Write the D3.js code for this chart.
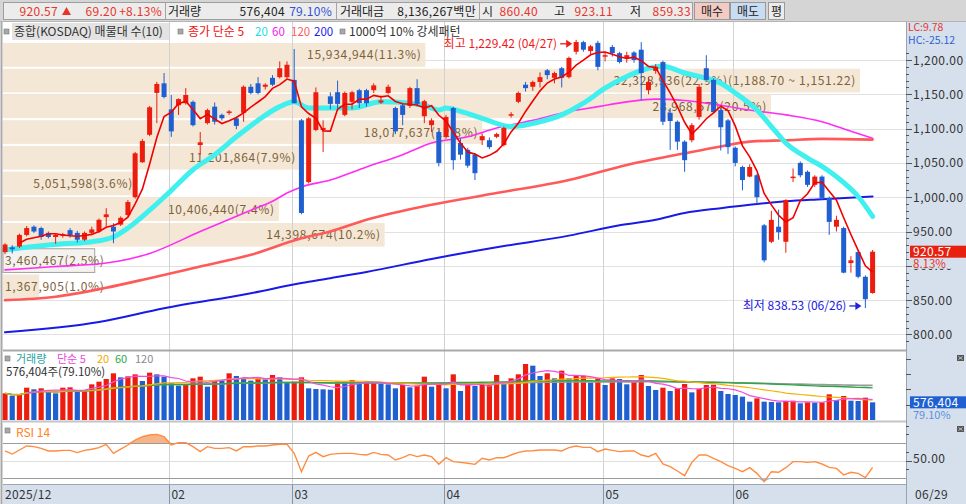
<!DOCTYPE html>
<html>
<head>
<meta charset="utf-8">
<script src="https://cdn.jsdelivr.net/npm/d3@7"></script>
<style>
  body { margin: 0; background: #fff; overflow: hidden; }
  svg text { font-family: "Noto Sans CJK KR", "Noto Sans", sans-serif; }
</style>
</head>
<body>
<svg id="chart" width="966" height="504"></svg>
<script>
// ---- daily candles, 2025/12/29 .. 2026/06/29 (index 0..120) ----
var openPrices = [920,927,928,945,957,955,948,942,944,952, 948,938,948,950,971,957,960,974,1000,1051,
  1091,1152,1166,1128,1134,1137,1139,1076,1108,1132, 1120,1123,1115,1123,1161,1166,1161,1174,1175,1175,
  1171,1112,1022,1098,1098,1147,1153,1120,1139,1156, 1156,1156,1138,1152,1130,1134,1133,1159,1118,1105,
  1095,1088,1130,1079,1069,1062,1083,1083,1088,1076, 1119,1139,1164,1161,1168,1185,1174,1188,1175,1212,
  1226,1213,1225,1205,1219,1210,1203,1211,1215,1156, 1184,1197,1123,1110,1081,1083,1117,1188,1171,1127,
  1112,1072,1044,1030,1032,959,935,957,935,1028, 1050,1037,1018,1030,999,957,955,904,920,884,
  860.40];
var highPrices = [933,930,947,958,959,957,950,947,948,955, 951,950,957,969,984,962,972,996,1066,1085,
  1133,1168,1181,1149,1144,1159,1141,1095,1129,1138, 1122,1127,1117,1163,1165,1175,1166,1178,1198,1198,
  1216,1114,1117,1160,1112,1153,1170,1154,1155,1158, 1158,1166,1148,1164,1132,1136,1161,1172,1142,1115,
  1097,1120,1132,1086,1072,1064,1093,1087,1094,1103, 1124,1154,1168,1170,1182,1187,1183,1190,1205,1229.42,
  1228,1222,1228,1212,1222,1212,1212,1213,1226,1175, 1194,1199,1130,1112,1083,1108,1165,1207,1173,1130,
  1114,1074,1046,1048,1034,961,980,982,997,1042, 1052,1039,1032,1032,1001,973,957,914,922,886,
  923.11];
var lowPrices = [917,918,926,943,948,938,940,932,941,941, 934,936,946,948,957,933,958,972,998,1050,
  1089,1108,1144,1088,1120,1135,1103,1062,1106,1106, 1112,1120,1099,1110,1150,1150,1157,1162,1173,1173,
  1137,975,1020,1096,1066,1128,1130,1118,1128,1130, 1132,1152,1136,1150,1092,1105,1130,1132,1108,1095,
  1045,1085,1040,1055,1043,1025,1076,1070,1086,1074, 1116,1137,1154,1155,1160,1172,1166,1160,1173,1208,
  1212,1208,1185,1198,1205,1195,1196,1196,1142,1150, 1180,1105,1069,1069,1037,1080,1113,1170,1122,1068,
  1063,1045,1010,1029,990,905,933,938,919,1022, 1029,1015,1015,996,945,950,889,890,882,838.53,
  859.33];
var closePrices = [931,924,945,955,950,942,942,945,946,944, 938,948,953,967,975,950,970,993,1064,1082,
  1131,1165,1146,1096,1143,1149,1105,1080,1127,1110, 1115,1125,1104,1161,1152,1152,1164,1164,1188,1193,
  1137,977,1115,1153,1101,1136,1136,1152,1153,1137, 1137,1163,1141,1161,1096,1120,1159,1136,1140,1112,
  1050,1117,1054,1062,1046,1035,1089,1073,1092,1101, 1121,1152,1159,1168,1175,1178,1181,1174,1203,1226.18,
  1215,1220,1190,1207,1210,1197,1207,1200,1181,1168, 1190,1110,1111,1081,1054,1105,1161,1171,1124,1102,
  1073,1050,1025,1044,1000,908,967,949,996,1030, 1032,1018,1030,999,964,967,890,908,884,851.37,
  920.57];
// volume, thousand shares
var volumes = [870,793,815,1054,1000,1033,924,870,1054,1065, 924,946,1163,1250,1337,1522,1391,1424,1489,1272,
  1544,1489,1413,1196,1120,1141,1359,1413,1087,1304, 1283,1522,1435,1359,1283,1359,1326,1467,1391,1217,
  1250,1391,1033,1011,1000,989,1250,1217,1304,1174, 1228,1239,1174,1163,1033,1141,1065,1120,1413,1087,
  1174,1033,1489,946,1141,1109,1141,1163,1467,1217, 1359,1489,1826,1772,1435,1522,1359,1609,1359,1435,
  1446,1217,1359,1141,1359,1337,1163,1250,1467,1109, 978,1054,946,1033,1174,902,1011,1141,1152,946,
  848,815,761,598,707,598,587,576,620,630, 544,576,565,576,837,652,783,630,620,728.7,
  576.404];
// RSI 14
var rsiValues = [60.9,57.4,62.0,66.6,65.8,63.9,60.9,60.9,61.6,61.6, 59.0,61.6,62.8,64.7,68.5,58.2,63.1,67.7,73.4,77.2,
  79.1,79.9,77.2,67.7,70.4,70.4,65.8,60.1,65.8,63.9, 63.9,64.7,60.9,65.8,65.8,66.6,66.6,67.7,68.5,68.5,
  58.2,37.2,55.1,59.3,54.4,57.0,57.8,58.2,58.2,57.0, 56.3,59.3,57.0,56.3,50.6,53.2,57.0,54.4,56.3,54.4,
  45.6,53.2,48.7,47.9,46.8,45.6,52.5,50.6,53.2,53.2, 56.3,59.3,60.9,61.2,62.0,62.0,62.0,60.9,64.7,66.6,
  65.0,65.0,60.1,63.1,61.6,60.1,60.9,60.9,56.3,54.4, 58.2,46.0,43.0,38.0,32.7,47.9,56.3,56.3,52.5,48.7,
  44.1,41.0,37.2,41.8,35.3,25.8,37.2,36.5,41.8,48.7, 48.7,47.9,48.7,46.0,42.2,41.0,33.4,36.5,35.3,30.4,
  42.2];
// longer moving averages: [index, value]
var ma20Points = [[0,923],[4,928],[8,932],[12,935],[15,942],[17,955],[20,981],[23,1010],[26,1040],[29,1062],
  [32,1088],[35,1112],[38,1132],[40,1139],[42,1130],[44,1130],[48,1130],[52,1139],[56,1137],[58,1134],
  [60,1127],[61,1130],[63,1125],[66,1115],[70,1103],[74,1110],[77,1120],[80,1137],[83,1159],[86,1176],
  [89,1188],[91,1191],[94,1181],[96,1176],[99,1166],[101,1152],[104,1127],[106,1103],[108,1079],[111,1057],
  [113,1045],[115,1030],[118,1001],[120,972]];
var ma60Points = [[0,894],[7,899],[14,904],[20,918],[27,950],[34,981],[37,994],[39,1006],[41,1015],[45,1025],
  [50,1044],[55,1062],[59,1079],[64,1088],[68,1101],[73,1112],[78,1125],[82,1132],[86,1139],[90,1143],
  [94,1141],[99,1134],[103,1127],[108,1120],[113,1110],[117,1096],[120,1086]];
var ma120Points = [[0,850],[7,855],[14,868],[20,882],[27,899],[34,916],[41,940],[45,950],[50,967],[59,989],
  [68,1006],[78,1025],[86,1047],[94,1064],[99,1074],[103,1081],[108,1083],[113,1085],[120,1084]];
var ma200Points = [[0,803],[13,818],[22,838],[34,860],[41,875],[45,882],[50,891],[59,910],[68,927],[78,944],
  [85,959],[90,967],[94,977],[99,984],[103,989],[108,994],[113,997],[120,1001]];
// volume-at-price bins (bottom to top), from the 매물대 labels
var profileVolumes = [1367905,3460467,14398674,10406440,5051598,11201864,18077637,28968570,32328936,15934944];
// axes
var priceTicks = [800,850,900,950,1000,1050,1100,1150,1200];
var monthTickIndex = [23,40,61,83,101];
var monthTickLabels = ["02","03","04","05","06"];
var firstDateLabel = "2025/12", lastDateLabel = "06/29";

var UP = "#ec1c0e", DOWN = "#1f5fcf";
var svg = d3.select("#chart");
var fmt2 = d3.format(",.2f"), fmtInt = d3.format(",d");

var x = d3.scaleLinear().domain([0, 120]).range([5, 872.6]);
var yP = d3.scaleLinear().domain([800, 1200]).range([334.4, 60]);
var yV = d3.scaleLinear().domain([0, 2250]).range([420, 351]);
var yR = d3.scaleLinear().domain([30, 70]).range([478, 443]);
var idx = d3.range(closePrices.length);

function txt(g, px, py, s, color, opt) {
  opt = opt || {};
  return g.append("text").attr("x", px).attr("y", py).text(s)
    .attr("fill", color)
    .attr("font-size", opt.size || 12)
    .attr("text-anchor", opt.anchor || "start")
    .attr("letter-spacing", opt.ls || 0)
    .attr("font-weight", opt.weight || "normal");
}
function bullet(g, px, py) {
  g.append("rect").attr("x", px).attr("y", py).attr("width", 5).attr("height", 5)
    .attr("fill", "#a8a8a8").attr("stroke", "#777").attr("stroke-width", 0.6);
}

// ---- backgrounds ----
svg.append("rect").attr("width", 966).attr("height", 504).attr("fill", "#fff");
svg.append("rect").attr("x", 906).attr("y", 22).attr("width", 60).attr("height", 482).attr("fill", "#d6e0ec");
svg.append("rect").attr("x", 3).attr("y", 485).attr("width", 903).attr("height", 19).attr("fill", "#d6e0ec");

var price = svg.append("g");
// horizontal grid
price.selectAll(".hg").data(priceTicks).enter().append("line")
  .attr("x1", 3).attr("x2", 906).attr("y1", function(d){ return Math.round(yP(d)) + 0.5; })
  .attr("y2", function(d){ return Math.round(yP(d)) + 0.5; })
  .attr("stroke", "#e1e1e1");

// volume profile bands
var lo = d3.min(closePrices), hi = d3.max(closePrices);
var step = (hi - lo) / profileVolumes.length;
var totalProfile = d3.sum(profileVolumes), maxProfile = d3.max(profileVolumes);
var bandW = d3.scaleLinear().domain([0, maxProfile]).range([0, 857]);
var curBin = Math.min(profileVolumes.length - 1, Math.floor((closePrices[closePrices.length-1] - lo) / step));
var bandLabels = [];
profileVolumes.forEach(function(v, k) {
  var pLo = lo + k * step, pHi = lo + (k + 1) * step;
  var yTop = yP(pHi) + 1, yBot = yP(pLo) - 1;
  price.append("rect").attr("x", 3).attr("y", yTop).attr("width", bandW(v)).attr("height", yBot - yTop)
    .attr("fill", k === curBin ? "#f4f2ef" : "#f5e7d5")
    .attr("stroke", k === curBin ? "#a3a3a3" : "none");
  var label = fmtInt(v) + "(" + (v / totalProfile * 100).toFixed(1) + "%)";
  if (v === maxProfile) label += "(" + fmt2(pHi) + " ~ " + fmt2(pLo) + ")";
  bandLabels.push({ label: label, end: 3 + bandW(v), y: (yTop + yBot) / 2 + 4.5 });
});

// vertical month grid
var gridX = function(i){ return Math.round(x(i) - 2) + 0.5; };
svg.selectAll(".vg").data(monthTickIndex).enter().append("line")
  .attr("x1", gridX).attr("x2", gridX).attr("y1", 22).attr("y2", 485)
  .attr("stroke", "#d2d2d2");

// band labels
var labelG = svg.append("g");
bandLabels.forEach(function(b) {
  var t = txt(labelG, b.end - 4, b.y, b.label, "#7b623c", { size: 12, anchor: "end", ls: 0.7 });
  var w = t.node().getComputedTextLength();
  if (w + 8 > b.end - 3) t.attr("x", 5).attr("text-anchor", "start");
});

// moving averages
var lineIdx = d3.line().x(function(d){ return x(d[0]); }).y(function(d){ return yP(d[1]); }).curve(d3.curveMonotoneX);
function maLine(pts, color, w) {
  svg.append("path").attr("d", lineIdx(pts)).attr("fill", "none").attr("stroke", color)
    .attr("stroke-width", w).attr("stroke-linejoin", "round").attr("stroke-linecap", "round");
}
maLine(ma200Points, "#1a1ae6", 2);
maLine(ma120Points, "#ff5a5a", 2.6);
maLine(ma60Points, "#ff2cf2", 1.6);
maLine(ma20Points, "#3ff0ee", 5);

// candles
var cg = svg.append("g");
idx.forEach(function(i) {
  var o = openPrices[i], c = closePrices[i];
  var col = c >= o ? UP : DOWN;
  cg.append("line").attr("x1", x(i)).attr("x2", x(i))
    .attr("y1", yP(highPrices[i])).attr("y2", yP(lowPrices[i])).attr("stroke", col).attr("stroke-width", 1);
  var top = yP(Math.max(o, c)), bot = yP(Math.min(o, c));
  cg.append("rect").attr("x", x(i) - 2.5).attr("y", top).attr("width", 5)
    .attr("height", Math.max(1.5, bot - top)).attr("fill", col);
});

// MA5 from closes
var ma5 = idx.map(function(i) {
  var w = closePrices.slice(Math.max(0, i - 4), i + 1);
  return [i, d3.mean(w)];
}).filter(function(d){ return d[0] >= 2; });
svg.append("path").attr("d", d3.line().x(function(d){ return x(d[0]); }).y(function(d){ return yP(d[1]); })(ma5))
  .attr("fill", "none").attr("stroke", "#f20000").attr("stroke-width", 1.6);

// high / low annotations
var iHi = highPrices.indexOf(d3.max(highPrices)), iLo = lowPrices.indexOf(d3.min(lowPrices));
function arrow(x1, x2, yy, col) {
  svg.append("line").attr("x1", x1).attr("x2", x2 - 5).attr("y1", yy).attr("y2", yy).attr("stroke", col).attr("stroke-width", 1.3);
  svg.append("path").attr("d", "M" + (x2 - 6) + "," + (yy - 4) + "L" + x2 + "," + yy + "L" + (x2 - 6) + "," + (yy + 4) + "Z").attr("fill", col);
}
var hiY = yP(highPrices[iHi]) + 4;
arrow(x(iHi) - 16, x(iHi) - 4, hiY, "#f01a1a");
txt(svg, x(iHi) - 19, hiY + 4.5, "최고 " + fmt2(highPrices[iHi]) + " (04/27)", "#f01a1a", { size: 12, anchor: "end" });
var loY = yP(lowPrices[iLo]) - 2;
arrow(x(iLo) - 16, x(iLo) - 4, loY, "#2020e0");
txt(svg, x(iLo) - 19, loY + 4.5, "최저 " + fmt2(lowPrices[iLo]) + " (06/26)", "#2020e0", { size: 12, anchor: "end" });

// legend of price panel
var lg = svg.append("g");
lg.append("rect").attr("x", 12).attr("y", 23).attr("width", 157).attr("height", 17).attr("fill", "#e3e3e3");
bullet(lg, 4, 29);
txt(lg, 14, 36, "종합(KOSDAQ) 매물대 수(10)", "#333", { size: 12 });
bullet(lg, 178, 29);
txt(lg, 188, 36, "종가 단순 5", "#f01010", { size: 12 });
txt(lg, 255, 36, "20", "#18dce8", { size: 11.5 });
txt(lg, 272, 36, "60", "#f020f0", { size: 11.5 });
txt(lg, 291, 36, "120", "#ff5a5a", { size: 11.5 });
txt(lg, 314, 36, "200", "#2020f0", { size: 11.5 });
bullet(lg, 340, 29);
txt(lg, 349, 36, "1000억 10% 강세패턴", "#333", { size: 12 });

// ---- volume panel ----
var vg = svg.append("g");
idx.forEach(function(i) {
  var col = (i === 0 || volumes[i] > volumes[i-1]) ? UP : DOWN;
  vg.append("rect").attr("x", x(i) - 2.6).attr("y", yV(volumes[i])).attr("width", 5.2)
    .attr("height", yV(0) - yV(volumes[i])).attr("fill", col);
});
function volMA(n) {
  return idx.map(function(i){ return [i, d3.mean(volumes.slice(Math.max(0, i - n + 1), i + 1))]; });
}
var vLine = d3.line().x(function(d){ return x(d[0]); }).y(function(d){ return yV(d[1]); });
[[120, "#9a9a9a", 1.6], [60, "#2fa548", 1.4], [20, "#f7b000", 1.2], [5, "#f04ee0", 1.2]].forEach(function(m) {
  var pts = volMA(m[0]).filter(function(d){ return m[0] === 5 ? d[0] >= 3 : true; });
  vg.append("path").attr("d", vLine(pts)).attr("fill", "none").attr("stroke", m[1]).attr("stroke-width", m[2]);
});
bullet(vg, 5, 356);
txt(vg, 16, 363, "거래량", "#2aa3a3", { size: 11 });
txt(vg, 57, 363, "단순 5", "#ee44dd", { size: 11 });
txt(vg, 97, 363, "20", "#f5a800", { size: 11 });
txt(vg, 115, 363, "60", "#2ea84a", { size: 11 });
txt(vg, 135, 363, "120", "#8a8a8a", { size: 11 });
txt(vg, 6, 376, fmtInt(Math.round(volumes[120] * 1000)) + "주(" + (volumes[120] / volumes[119] * 100).toFixed(2) + "%)", "#333", { size: 11.5 });

// ---- RSI panel ----
var rg = svg.append("g");
[[70, "#9b9b9b"], [50, "#dedede"], [30, "#9b9b9b"]].forEach(function(l) {
  rg.append("line").attr("x1", 3).attr("x2", 906).attr("y1", Math.round(yR(l[0])) + 0.5).attr("y2", Math.round(yR(l[0])) + 0.5)
    .attr("stroke", l[1]).attr("stroke-width", 1.2);
});
var rsiPts = idx.map(function(i){ return [i, rsiValues[i]]; });
rg.append("path").attr("d", d3.area().x(function(d){ return x(d[0]); }).y0(yR(70))
  .y1(function(d){ return yR(Math.max(70, d[1])); })(rsiPts)).attr("fill", "#f6b487");
rg.append("path").attr("d", d3.area().x(function(d){ return x(d[0]); }).y0(yR(30))
  .y1(function(d){ return yR(Math.min(30, d[1])); })(rsiPts)).attr("fill", "#9fc3e6");
rg.append("path").attr("d", d3.line().x(function(d){ return x(d[0]); }).y(function(d){ return yR(d[1]); })(rsiPts))
  .attr("fill", "none").attr("stroke", "#ff8c40").attr("stroke-width", 1.4);
bullet(rg, 5, 428);
txt(rg, 16, 437, "RSI 14", "#ff7f2a", { size: 12 });

// ---- frames / separators ----
svg.append("line").attr("x1", 3).attr("x2", 906).attr("y1", 350.5).attr("y2", 350.5).attr("stroke", "#a9a9a9").attr("stroke-width", 2);
svg.append("line").attr("x1", 3).attr("x2", 906).attr("y1", 421.5).attr("y2", 421.5).attr("stroke", "#c4c4c4").attr("stroke-width", 2);
svg.append("line").attr("x1", 3).attr("x2", 906).attr("y1", 484.5).attr("y2", 484.5).attr("stroke", "#9ea6b2");
svg.append("line").attr("x1", 906.5).attr("x2", 906.5).attr("y1", 22).attr("y2", 504).attr("stroke", "#98a2b0");
svg.append("line").attr("x1", 1.5).attr("x2", 1.5).attr("y1", 22).attr("y2", 504).attr("stroke", "#a8a8a8").attr("stroke-width", 2);

// ---- x axis ----
var xa = svg.append("g");
xa.selectAll(".ms").data(monthTickIndex).enter().append("line")
  .attr("x1", gridX).attr("x2", gridX).attr("y1", 485).attr("y2", 504).attr("stroke", "#8795a8");
txt(xa, 5, 499, firstDateLabel, "#333", { size: 12, ls: 0.3 });
monthTickIndex.forEach(function(m, k) { txt(xa, gridX(m) + 2, 499, monthTickLabels[k], "#333", { size: 12 }); });
txt(xa, 915, 499, lastDateLabel, "#333", { size: 12, ls: 0.3 });

// ---- right axis ----
var ra = svg.append("g");
var lastC = closePrices[120], prevC = closePrices[119];
d3.range(790, 1251, 10).forEach(function(p) {
  var yy = Math.round(yP(p)) + 0.5;
  if (yy < 48 || yy > 348) return;
  var major = p % 50 === 0;
  ra.append("line").attr("x1", 906).attr("x2", major ? 912 : 909).attr("y1", yy).attr("y2", yy).attr("stroke", "#555");
});
priceTicks.forEach(function(p) {
  txt(ra, 913, yP(p) + 4.5, fmt2(p), "#333", { size: 12, ls: 0.5 });
});
txt(ra, 908, 31, "LC:9.78", "#e8352a", { size: 10.5 });
txt(ra, 908, 44, "HC:-25.12", "#2e62d4", { size: 10.5 });
ra.append("rect").attr("x", 910).attr("y", yP(lastC) - 6).attr("width", 56).attr("height", 12).attr("fill", "#e82010");
txt(ra, 913, yP(lastC) + 4.5, fmt2(lastC), "#fff", { size: 12, ls: 0.3 });
// the change text covers the nearest tick label, as in the terminal
ra.append("rect").attr("x", 912).attr("y", yP(lastC) + 7).attr("width", 40).attr("height", 10).attr("fill", "#d6e0ec");
txt(ra, 913, yP(lastC) + 16, ((lastC / prevC - 1) * 100).toFixed(2) + "%", "#e8352a", { size: 11.5 });
[500, 1000, 1500, 2000].forEach(function(v) {
  ra.append("line").attr("x1", 906).attr("x2", 911).attr("y1", Math.round(yV(v)) + 0.5).attr("y2", Math.round(yV(v)) + 0.5).attr("stroke", "#555");
});
ra.append("rect").attr("x", 910).attr("y", yV(volumes[120]) - 6).attr("width", 56).attr("height", 12).attr("fill", "#1e5fd2");
txt(ra, 913, yV(volumes[120]) + 4.5, fmtInt(Math.round(volumes[120] * 1000)), "#fff", { size: 12, ls: 0.3 });
txt(ra, 913, yV(volumes[120]) + 17, (volumes[120] / volumes[119] * 100).toFixed(2) + "%", "#5d8fe0", { size: 11 });
[10, 20, 40, 60, 80, 90].forEach(function(r) {
  var yy = Math.round(yR(r)) + 0.5;
  if (yy < 423 || yy > 483) return;
  ra.append("line").attr("x1", 906).attr("x2", 909).attr("y1", yy).attr("y2", yy).attr("stroke", "#555");
});
ra.append("line").attr("x1", 906).attr("x2", 912).attr("y1", Math.round(yR(50)) + 0.5).attr("y2", Math.round(yR(50)) + 0.5).attr("stroke", "#555");
txt(ra, 913, yR(50) + 2, "50.00", "#333", { size: 12, ls: 0.5 });
[355, 426].forEach(function(yy) {
  ra.append("rect").attr("x", 957).attr("y", yy).attr("width", 7).attr("height", 6).attr("fill", "#555");
  ra.append("path").attr("d", "M958.5," + (yy + 1.5) + "l4,3m0,-3l-4,3").attr("stroke", "#ddd").attr("stroke-width", 0.8);
});

// ---- header bar ----
var hd = svg.append("g");
hd.append("rect").attr("width", 966).attr("height", 22).attr("fill", "#d5d5d5");
hd.append("line").attr("x1", 0).attr("x2", 966).attr("y1", 21.5).attr("y2", 21.5).attr("stroke", "#b5b5b5");
hd.append("rect").attr("x", 3.5).attr("y", 2.5).attr("width", 689).attr("height", 17).attr("fill", "#ececec").attr("stroke", "#9e9e9e");
[165.5, 336.5, 479.5].forEach(function(sx) {
  hd.append("line").attr("x1", sx).attr("x2", sx).attr("y1", 3).attr("y2", 19).attr("stroke", "#a5a5a5");
});
var RED = "#e8352a";
txt(hd, 58, 16, fmt2(lastC), RED, { anchor: "end", ls: 0.3 });
hd.append("path").attr("d", "M62,15L66.5,7L71,15Z").attr("fill", RED);
txt(hd, 117, 16, fmt2(lastC - prevC), RED, { anchor: "end", ls: 0.3 });
txt(hd, 162, 16, "+" + ((lastC / prevC - 1) * 100).toFixed(2) + "%", RED, { anchor: "end", ls: 0.3 });
txt(hd, 168, 16, "거래량", "#222");
txt(hd, 285, 16, fmtInt(Math.round(volumes[120] * 1000)), "#222", { anchor: "end", ls: 0.3 });
txt(hd, 332, 16, "79.10%", "#3152d4", { anchor: "end", ls: 0.3 });
txt(hd, 340, 16, "거래대금", "#222");
txt(hd, 476, 16, "8,136,267백만", "#222", { anchor: "end", ls: 0.3 });
txt(hd, 482, 16, "시", "#222");
txt(hd, 538, 16, fmt2(openPrices[120]), RED, { anchor: "end", ls: 0.3 });
txt(hd, 554, 16, "고", "#222");
txt(hd, 613, 16, fmt2(highPrices[120]), RED, { anchor: "end", ls: 0.3 });
txt(hd, 630, 16, "저", "#222");
txt(hd, 691, 16, fmt2(lowPrices[120]), RED, { anchor: "end", ls: 0.3 });
[["매수", 694.5, 35, "#f4cbc3"], ["매도", 730.5, 35, "#c8ddf4"], ["평", 768.5, 16, "#ececec"]].forEach(function(b) {
  hd.append("rect").attr("x", b[1]).attr("y", 2.5).attr("width", b[2]).attr("height", 17).attr("fill", b[3]).attr("stroke", "#9a9a9a");
  txt(hd, b[1] + b[2] / 2, 16, b[0], "#222", { anchor: "middle" });
});
</script>
</body>
</html>
